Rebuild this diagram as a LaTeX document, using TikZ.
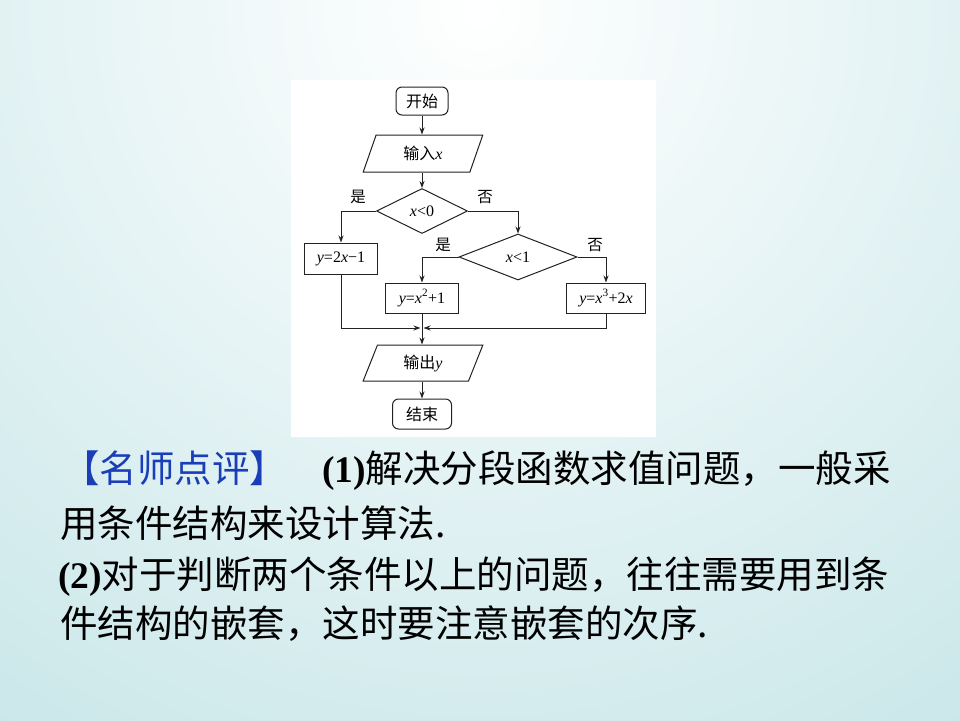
\documentclass[tikz,border=0pt]{standalone}
\usepackage{fontspec}
\setmainfont{Liberation Serif}
\newfontfamily\cjkfam{Noto Sans CJK SC}
\newcommand\zhtext[1]{{\cjkfam #1}}
\usetikzlibrary{shapes.geometric,arrows.meta,calc}
\definecolor{bgteal}{HTML}{BFE2E5}
\definecolor{pblue}{HTML}{1A3DB8}
\definecolor{lnc}{HTML}{222222}
\tikzset{
  fc/.style={draw=lnc, line width=1pt, fill=white, inner sep=0pt, font=\fontsize{16}{19}\selectfont},
  term/.style={fc, rectangle, rounded corners=6pt},
  io/.style={fc, trapezium, trapezium left angle=70, trapezium right angle=110,
             trapezium stretches=true, minimum width=120pt},
  dec/.style={fc, diamond},
  proc/.style={fc, rectangle},
  arr/.style={draw=lnc, line width=1pt, -{Stealth[length=7pt,width=5pt]}},
  lbl/.style={inner sep=0pt, font=\cjkfam\fontsize{15.5}{18}\selectfont},
  maintext/.style={anchor=base west, inner sep=0pt, font=\fontsize{37.5}{45}\selectfont},
}
\begin{document}
\begin{tikzpicture}[x=1pt,y=-1pt]
\useasboundingbox (0,0) rectangle (960,720);
\fill[bgteal] (0,0) rectangle (960,720);
\begin{scope}
  \clip (0,0) rectangle (960,720);
  \shade[inner color=white, outer color=bgteal] (480,10) circle (1050);
\end{scope}
% panel
\fill[white] (291,80) rectangle (656,437);

% nodes
\node[term, minimum width=52pt, minimum height=28pt] (start) at (422,101) {\zhtext{开始}};
\node[io, minimum height=37pt] (in) at (423,153.5) {\zhtext{输入}\textit{x}};
\node[dec, minimum width=91pt, minimum height=45pt] (d1) at (422,211) {\textit{x}<0};
\node[dec, minimum width=118pt, minimum height=46pt] (d2) at (518,257) {\textit{x}<1};
\node[proc, minimum width=73pt, minimum height=31pt] (r1) at (341,258.5) {\textit{y}=2\textit{x}−1};
\node[proc, minimum width=73pt, minimum height=30pt] (r2) at (422,298) {\textit{y}=\textit{x}\textsuperscript{2}+1};
\node[proc, minimum width=79pt, minimum height=30pt] (r3) at (606,298) {\textit{y}=\textit{x}\textsuperscript{3}+2\textit{x}};
\node[io, minimum height=36pt] (out) at (423,363) {\zhtext{输出}\textit{y}};
\node[term, minimum width=59pt, minimum height=30pt] (end) at (422,414) {\zhtext{结束}};

% labels
\node[lbl] (yes1) at (358,197) {是};
\node[lbl] (no1) at (485,197) {否};
\node[lbl] (yes2) at (443,245) {是};
\node[lbl] (no2) at (595,245) {否};

% connectors
\coordinate (mL) at (420.5,328);
\coordinate (mR) at (423.5,328);
\draw[arr] (start.south) -- (start.south |- in.north);
\draw[arr] (d1.north |- in.south) -- (d1.north);
\draw[arr] (d1.west) -| (r1.north);
\draw[arr] (d1.east) -| (d2.north);
\draw[arr] (d2.west) -| (r2.north);
\draw[arr] (d2.east) -| (r3.north);
\draw[arr] (r1.south) |- (mL);
\draw[arr] (r3.south) |- (mR);
\draw[arr] (r2.south) -- (r2.south |- out.north);
\draw[arr] (end.north |- out.south) -- (end.north);

% text
\node[maintext, text=pblue] (head) at (62,482) {\zhtext{【名师点评】}};
\node[maintext] (p1) at (322,482) {\textbf{(1)}\zhtext{解决分段函数求值问题，一般采}};
\node[maintext] (p2) at (60,537) {\zhtext{用条件结构来设计算法.}};
\node[maintext] (p3) at (58,588) {\textbf{(2)}\zhtext{对于判断两个条件以上的问题，往往需要用到条}};
\node[maintext] (p4) at (60,637) {\zhtext{件结构的嵌套，这时要注意嵌套的次序.}};
\end{tikzpicture}
\end{document}
